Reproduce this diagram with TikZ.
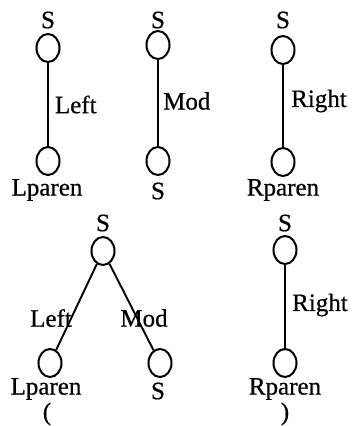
\documentclass[tikz,border=0pt]{standalone}
\usepackage{fontspec}
\usetikzlibrary{shapes.geometric}
\setmainfont{Liberation Serif}[FakeBold=0.6]
\begin{document}
\begin{tikzpicture}[x=1pt,y=-1pt,
  vtx/.style={draw,line width=2pt,ellipse,minimum width=23pt,minimum height=28pt,inner sep=0pt},
  lbl/.style={font=\fontsize{25}{25}\selectfont,inner sep=0pt},
  edge/.style={line width=1.9pt}]
\useasboundingbox (0,0) rectangle (354,426);
% graph 1
\node[vtx] (a1) at (48,48) {};
\node[vtx] (a2) at (48,161) {};
\node[lbl] (a1l) at (48,20) {S};
\node[lbl] (a2l) at (47,190) {Lparen};
\draw[edge] (a1) -- node[lbl,right=6pt] (ae) {Left} (a2);
% graph 2
\node[vtx] (b1) at (158,45) {};
\node[vtx] (b2) at (158,161) {};
\node[lbl] (b1l) at (158,20) {S};
\node[lbl] (b2l) at (158,191) {S};
\node[lbl,anchor=west] (be) at (163,101) {Mod};
\draw[edge] (b1) -- (b2);
% graph 3
\node[vtx] (c1) at (283,50) {};
\node[vtx] (c2) at (283,162) {};
\node[lbl] (c1l) at (283,20) {S};
\node[lbl] (c2l) at (283,190) {Rparen};
\node[lbl,anchor=west] (ce) at (291,101) {Right};
\draw[edge] (c1) -- (c2);
% graph 4
\node[vtx] (d1) at (103,251) {};
\node[vtx] (d2) at (50,363) {};
\node[vtx] (d3) at (160,363) {};
\node[lbl] (d1l) at (103,223) {S};
\node[lbl] (d2l) at (46,389) {Lparen};
\node[lbl] (d2p) at (47,414) {(};
\node[lbl] (d3l) at (158,391) {S};
\draw[edge] (d1) -- (d2);
\draw[edge] (d1) -- (d3);
\node[lbl] (dle) at (51,318) {Left};
\node[lbl] (dme) at (144,318) {Mod};
% graph 5
\node[vtx] (e1) at (285,250) {};
\node[vtx] (e2) at (285,363) {};
\node[lbl] (e1l) at (285,223) {S};
\node[lbl] (e2l) at (285,389) {Rparen};
\node[lbl] (e2p) at (285,414) {)};
\node[lbl,anchor=west] (ee) at (292,305) {Right};
\draw[edge] (e1) -- (e2);
\end{tikzpicture}
\end{document}
